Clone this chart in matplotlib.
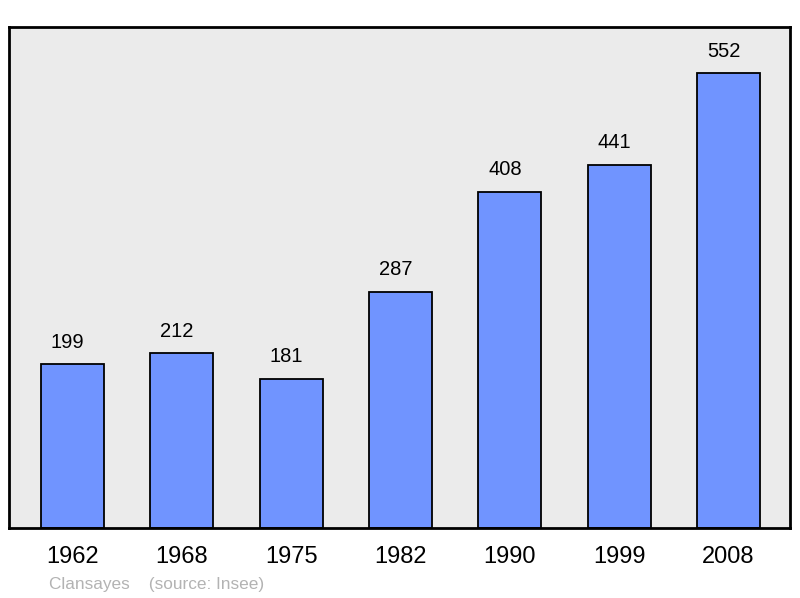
import matplotlib.pyplot as plt

# population data
years = ["1962", "1968", "1975", "1982", "1990", "1999", "2008"]
population = [199, 212, 181, 287, 408, 441, 552]

plt.rcParams['font.family'] = ['Liberation Sans', 'DejaVu Sans']

fig = plt.figure(figsize=(8, 5.98), dpi=100)
ax = fig.add_axes([9 / 800, 1 - 528 / 598, 781 / 800, 501 / 598])
ax.set_facecolor('#ebebeb')

x = range(len(years))
ax.bar(x, population, width=0.576, color='#7094ff', edgecolor='black', linewidth=1.3, zorder=2)

# value labels, sitting a little left of the bar centres as in the original
for xi, v in zip(x, population):
    ax.text(xi - 0.045, v + 15, str(v), ha='center', va='bottom', fontsize=14.5)

ax.set_xlim(-0.581, 6.563)
ax.set_ylim(0, 608)
ax.set_yticks([])
ax.set_xticks(list(x))
ax.set_xticklabels(years, fontsize=17)
ax.tick_params(axis='x', length=0, pad=13)
for s in ax.spines.values():
    s.set_linewidth(2)

fig.text(49 / 800, 1 - 584 / 598, "Clansayes    (source: Insee)", fontsize=12.4,
         color='#b3b3b3', va='center', ha='left')

fig.savefig("out.png", dpi=100)
